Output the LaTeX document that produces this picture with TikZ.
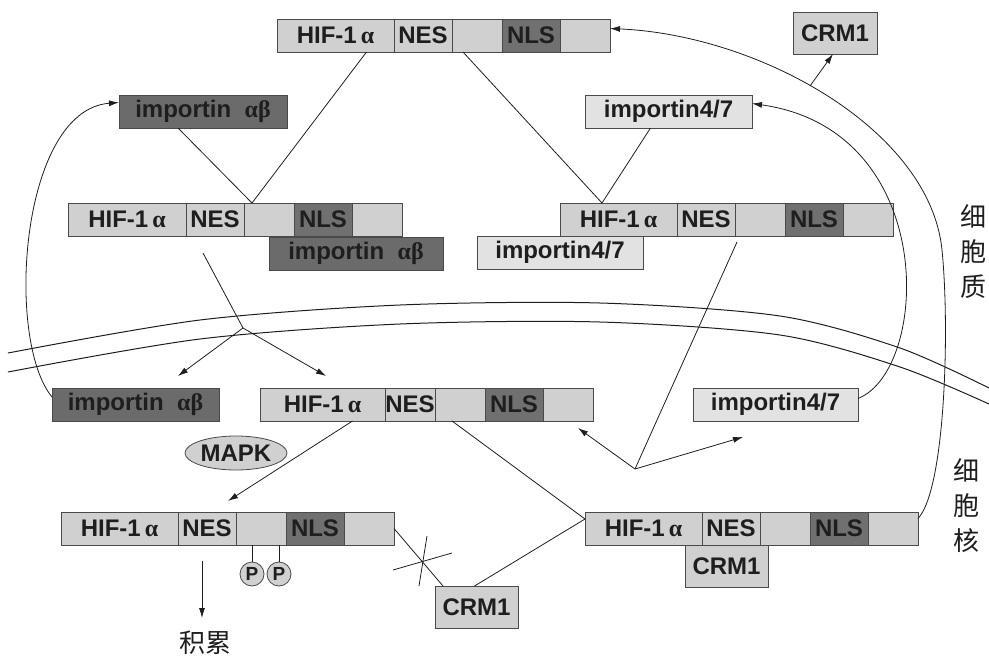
\documentclass[tikz,border=0pt]{standalone}
\usepackage{fontspec}
\setmainfont{Liberation Sans}
\newfontfamily\gk{Liberation Serif}
\newfontfamily\cjk{Noto Sans CJK SC}
\usetikzlibrary{arrows.meta}
\usetikzlibrary{calc}
\usetikzlibrary{shapes.geometric}

\definecolor{boxgray}{HTML}{D0D0D0}
\definecolor{nlsgray}{HTML}{707070}
\definecolor{impgray}{HTML}{6B6B6B}
\definecolor{lightbox}{HTML}{E2E2E2}
\definecolor{edgegray}{HTML}{4A4A4A}
\definecolor{inkgray}{HTML}{1E1E1E}

\tikzset{
    seg/.style = {draw=edgegray, fill=boxgray, line width=0.8pt, minimum height=33pt,
        inner sep=0pt, outer sep=0pt, anchor=north west, text=inkgray,
        font=\fontsize{24}{26}\selectfont\bfseries},
    nls/.style = {seg, fill=nlsgray},
    impab/.style = {seg, fill=impgray},
    imp47/.style = {seg, fill=lightbox},
    crm/.style = {seg, minimum height=42pt},
    phos/.style = {circle, draw=edgegray, fill=boxgray, line width=0.8pt, minimum size=24pt,
        inner sep=0pt, text=inkgray, font=\fontsize{19}{20}\selectfont\bfseries},
    link/.style = {draw=inkgray, line width=0.8pt},
    arr/.style = {-{Latex[length=10pt, width=6pt]}},
    zh/.style = {text=inkgray, font=\cjk\fontsize{26}{35}\selectfont, align=center, inner sep=0pt}
}

% name, x, y, width of the HIF part, width of the NES part
\newcommand{\hifchain}[5]{%
    \node [seg, minimum width=#4pt] (#1a) at (#2,#3) {HIF-1\,{\gk α}};
    \node [seg, minimum width=#5pt] (#1b) at (#1a.north east) {NES};
    \node [seg, minimum width=50pt] (#1c) at (#1b.north east) {};
    \node [nls, minimum width=58pt] (#1d) at (#1c.north east) {NLS};
    \node [seg, minimum width=50pt] (#1e) at (#1d.north east) {};
}

\begin{document}
\begin{tikzpicture} [x=1pt, y=-1pt]

    \useasboundingbox (0,0) rectangle (989,657);

    % membrane
    \draw [draw=inkgray, line width=1pt] plot[smooth] coordinates {
    (8,353) (200,320) (400,305) (600,303) (780,316) (900,348) (989,388) };
    \draw [draw=inkgray, line width=1pt] plot[smooth] coordinates {
    (8,372) (200,339) (400,324) (600,322) (780,335) (900,367) (989,404) };

    \hifchain{htop}{277}{19}{117}{58}
    \hifchain{hab}{68}{203}{118}{58}
    \hifchain{h47}{560}{203}{117}{58}
    \hifchain{hnuc}{260}{388}{125}{50}
    \hifchain{hpho}{61}{512}{117}{58}
    \hifchain{hexp}{585}{512}{117}{58}

    \node [impab, minimum width=168pt] (impAB) at (119,95) {importin~~{\gk αβ}};
    \node [impab, minimum width=174pt] (impABb) at (269,237) {importin~~{\gk αβ}};
    \node [impab, minimum width=167pt] (impABn) at (52,388) {importin~~{\gk αβ}};
    \node [imp47, minimum width=167pt] (imp47) at (585,95) {importin4/7};
    \node [imp47, minimum width=166pt] (imp47b) at (477,236) {importin4/7};
    \node [imp47, minimum width=165pt] (imp47n) at (693,388) {importin4/7};
    \node [crm, minimum width=84pt] (crmT) at (793,12) {CRM1};
    \node [crm, minimum width=83pt] (crmE) at (685,545) {CRM1};
    \node [crm, minimum width=83pt] (crmF) at (435,586) {CRM1};
    \node [seg, ellipse, anchor=center, minimum width=102pt, minimum height=34pt] (mapk) at (236,453) {MAPK};
    \node [phos] (p1) at (252,574) {P};
    \node [phos] (p2) at (279,574) {P};

    \node [zh] (acc) at (205,643) {积累};
    \node [zh] (cytl) at (973,252) {细\\胞\\质};
    \node [zh] (nucl) at (966,506) {细\\胞\\核};

    \coordinate (jab) at (252,203);
    \coordinate (j47) at (602,203);
    \coordinate (jin0) at (203,253);
    \coordinate (jin) at (243,328);
    \coordinate (toab) at (178,376);
    \coordinate (tonuc) at (326,376);
    \coordinate (jout0) at (737,242);
    \coordinate (jout) at (635,469);
    \coordinate (tohnuc) at (578,428);
    \coordinate (toimp) at (743,437);
    \coordinate (jexp) at (585,519);
    \coordinate (accfrom) at (202,561);
    \coordinate (accto) at (202,618);
    \coordinate (onloop) at (810,86);
    \coordinate (crmbend) at (942,250);

    % cytoplasm binding
    \draw [link] ($(htopa.south)+(31,0)$) -- (jab);
    \draw [link] ($(impAB.south)+(-25,0)$) -- (jab);
    \draw [link] ($(htopc.south)+(-14,0)$) -- (j47);
    \draw [link] ($(imp47.south)+(-18,0)$) -- (j47);

    % import
    \draw [link] (jin0) -- (jin);
    \draw [link, arr] (jin) -- (toab);
    \draw [link, arr] (jin) -- (tonuc);
    \draw [link] (jout0) -- (jout);
    \draw [link, arr] (jout) -- (tohnuc);
    \draw [link, arr] (jout) -- (toimp);

    % nucleus
    \draw [link, arr] ($(hnuca.south)+(30,0)$) -- (228,501);
    \draw [link] ($(hnucc.south)+(-8,0)$) -- (jexp);
    \draw [link] ($(crmF.north)+(-2,0)$) -- (jexp);
    \draw [link] (hphoe.east) -- ($(crmF.north west)+(8,0)$);
    \draw [link] (393,570) -- (452,553);
    \draw [link] (427,536) -- (419,586);
    \draw [link] (p1.north) -- (p1.north |- hphoc.south);
    \draw [link] (p2.north) -- (p2.north |- hphoc.south);
    \draw [link, arr] (accfrom) -- (accto);

    % recycling
    \draw [link, arr] ($(impABn.north west)+(0,9)$) .. controls (5,340) and (20,110) .. ($(impAB.west)+(0,-9)$);
    \draw [link, arr] ($(imp47n.east)+(0,-6)$) .. controls (930,370) and (940,130) .. ($(imp47.east)+(0,-8)$);
    \draw [link, arr] ($(hexpe.east)+(0,-10)$) .. controls (945,490) and (950,330) .. (crmbend)
        .. controls (930,130) and (760,35) .. ($(htope.east)+(0,-7)$);
    \draw [link, arr] (onloop) -- ($(crmT.south)+(-2,0)$);

\end{tikzpicture}
\end{document}
